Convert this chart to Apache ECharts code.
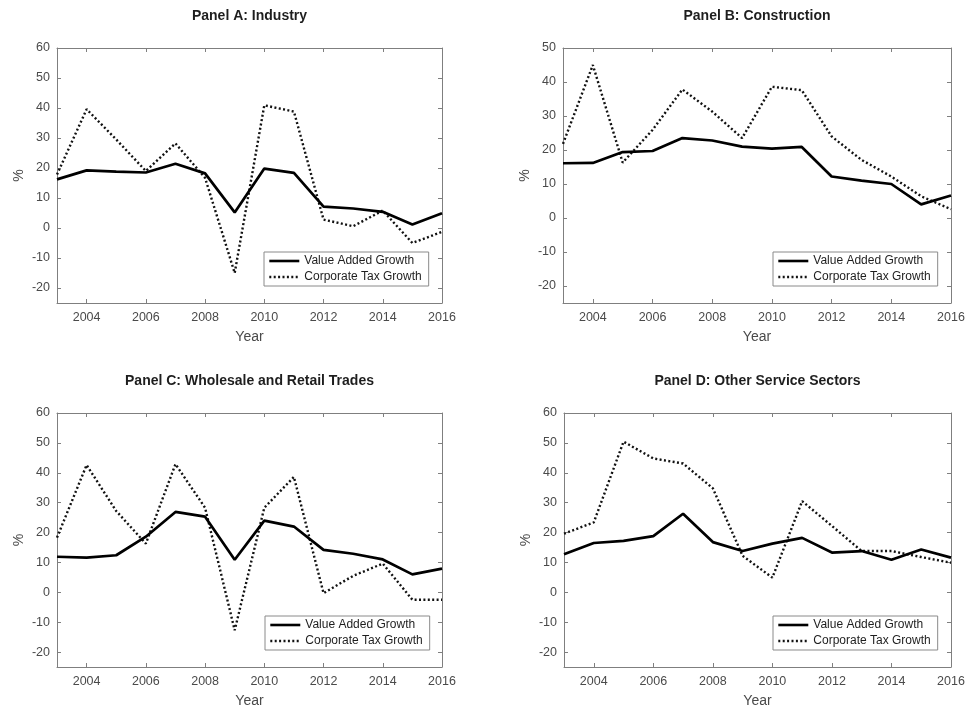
<!DOCTYPE html>
<html><head><meta charset="utf-8">
<script src="https://cdn.jsdelivr.net/npm/echarts@6/dist/echarts.min.js"></script>
<style>html,body{margin:0;padding:0;background:#fff}#c{width:968px;height:713px}</style>
</head><body><div id="c"></div>
<script>
// ---- data ----
const years = ['2003','2004','2005','2006','2007','2008','2009','2010','2011','2012','2013','2014','2015','2016'];
const seriesNames = ['Value Added Growth', 'Corporate Tax Growth'];
const panelTitles = ['Panel A: Industry', 'Panel B: Construction', 'Panel C: Wholesale and Retail Trades', 'Panel D: Other Service Sectors'];
const yTicks60 = [-20, -10, 0, 10, 20, 30, 40, 50, 60];
const yTicks50 = [-20, -10, 0, 10, 20, 30, 40, 50];
const yMin = -25;
const yMaxA = 60, yMaxB = 50, yMaxC = 60, yMaxD = 60;

const industryVA  = [16.2, 19.2, 18.8, 18.5, 21.4, 18.2, 5.2, 19.8, 18.4, 7.1, 6.5, 5.4, 1.2, 4.9];
const industryTax = [17.8, 39.6, 29.5, 19.0, 28.2, 16.7, -15.0, 40.9, 38.8, 2.8, 0.6, 5.8, -5.0, -1.3];
const constructionVA  = [16.1, 16.2, 19.4, 19.7, 23.5, 22.8, 21.0, 20.4, 20.9, 12.2, 11.0, 10.0, 4.0, 6.6];
const constructionTax = [21.8, 45.0, 16.3, 25.9, 37.8, 31.3, 23.5, 38.6, 37.6, 24.0, 17.1, 12.2, 6.4, 2.6];
const tradeVA  = [11.9, 11.6, 12.4, 18.6, 26.9, 25.3, 10.9, 24.0, 22.0, 14.2, 12.9, 11.0, 6.0, 7.9];
const tradeTax = [18.3, 42.6, 27.2, 16.3, 42.9, 28.3, -12.7, 28.3, 38.6, -0.3, 5.5, 9.6, -2.5, -2.5];
const serviceVA  = [12.7, 16.5, 17.2, 18.8, 26.3, 16.8, 13.8, 16.3, 18.2, 13.3, 13.8, 10.9, 14.3, 11.6];
const serviceTax = [19.6, 23.4, 50.4, 44.8, 43.1, 34.8, 12.2, 4.9, 30.5, 22.2, 13.8, 13.8, 11.8, 9.9];

// ---- layout ----
const panels = [
  {title: panelTitles[0], va: industryVA, tax: industryTax, yMax: yMaxA, ticks: yTicks60,
   left: 57, top: 48, width: 385, height: 255, legendLeft: 264, legendTop: 252},
  {title: panelTitles[1], va: constructionVA, tax: constructionTax, yMax: yMaxB, ticks: yTicks50,
   left: 563, top: 48, width: 388, height: 255, legendLeft: 773, legendTop: 252},
  {title: panelTitles[2], va: tradeVA, tax: tradeTax, yMax: yMaxC, ticks: yTicks60,
   left: 57, top: 413, width: 385, height: 254, legendLeft: 265, legendTop: 616},
  {title: panelTitles[3], va: serviceVA, tax: serviceTax, yMax: yMaxD, ticks: yTicks60,
   left: 564, top: 413, width: 387, height: 254, legendLeft: 773, legendTop: 616}
];

const FONT = "'Liberation Sans', Arial, sans-serif";
const axisColor = '#7f7f7f';
const labelColor = '#4a4a4a';
const evenYear = (idx, val) => (+val) % 2 === 0;

const option = {
  animation: false,
  backgroundColor: '#fff',
  textStyle: {fontFamily: FONT},
  title: [], grid: [], xAxis: [], yAxis: [], series: [], legend: []
};

panels.forEach((p, i) => {
  option.title.push({
    text: p.title, left: p.left + p.width / 2, top: p.top - 39, textAlign: 'center', padding: 0,
    textStyle: {fontSize: 14, fontWeight: 'bold', color: '#1e1e1e', fontFamily: FONT}
  });
  option.grid.push({left: p.left, top: p.top, width: p.width, height: p.height, containLabel: false});
  // bottom x axis
  option.xAxis.push({
    type: 'category', data: years, boundaryGap: false, gridIndex: i, position: 'bottom',
    axisLine: {show: true, onZero: false, lineStyle: {color: axisColor, width: 1}},
    axisTick: {show: true, inside: true, length: 4, interval: evenYear, lineStyle: {color: axisColor}},
    axisLabel: {interval: evenYear, margin: 8, fontSize: 12.5, color: labelColor, fontFamily: FONT},
    splitLine: {show: false},
    name: 'Year', nameLocation: 'middle', nameGap: 27,
    nameTextStyle: {fontSize: 14, color: labelColor, fontFamily: FONT}
  });
  // top x axis (box)
  option.xAxis.push({
    type: 'category', data: years, boundaryGap: false, gridIndex: i, position: 'top',
    axisLine: {show: true, onZero: false, lineStyle: {color: axisColor, width: 1}},
    axisTick: {show: true, inside: true, length: 4, interval: evenYear, lineStyle: {color: axisColor}},
    axisLabel: {show: false}, splitLine: {show: false}
  });
  // left y axis
  option.yAxis.push({
    type: 'value', min: yMin, max: p.yMax, gridIndex: i, position: 'left',
    axisLine: {show: true, onZero: false, lineStyle: {color: axisColor, width: 1}},
    axisTick: {show: true, inside: true, length: 4, customValues: p.ticks, lineStyle: {color: axisColor}},
    axisLabel: {customValues: p.ticks, margin: 7, fontSize: 12.5, color: labelColor, fontFamily: FONT},
    splitLine: {show: false},
    name: '%', nameLocation: 'middle', nameGap: 31, nameRotate: 90,
    nameTextStyle: {fontSize: 14, color: labelColor, fontFamily: FONT}
  });
  // right y axis (box)
  option.yAxis.push({
    type: 'value', min: yMin, max: p.yMax, gridIndex: i, position: 'right',
    axisLine: {show: true, onZero: false, lineStyle: {color: axisColor, width: 1}},
    axisTick: {show: true, inside: true, length: 4, customValues: p.ticks, lineStyle: {color: axisColor}},
    axisLabel: {show: false}, splitLine: {show: false}
  });
  option.series.push({
    name: seriesNames[0], type: 'line', xAxisIndex: 2 * i, yAxisIndex: 2 * i,
    data: p.va, symbol: 'none', z: 3, color: '#000',
    lineStyle: {color: '#000', width: 2.7}
  });
  option.series.push({
    name: seriesNames[1], type: 'line', xAxisIndex: 2 * i, yAxisIndex: 2 * i,
    data: p.tax, symbol: 'none', z: 2, color: '#111',
    lineStyle: {color: '#111', width: 2.4, type: [2, 2.4], cap: 'butt'}
  });
  option.legend.push({
    data: seriesNames, orient: 'vertical', left: p.legendLeft, top: p.legendTop,
    padding: [3, 7, 3, 4], itemGap: 4, itemWidth: 30, itemHeight: 14,
    borderColor: '#8a8a8a', borderWidth: 1, backgroundColor: '#fff', selectedMode: false,
    itemStyle: {color: 'rgba(0,0,0,0)', borderWidth: 0, opacity: 0},
    lineStyle: {width: 2.6},
    textStyle: {fontSize: 12, color: '#1e1e1e', fontFamily: FONT}
  });
});

const chart = echarts.init(document.getElementById('c'), null, {renderer: 'canvas'});
chart.setOption(option);
</script>
</body></html>
